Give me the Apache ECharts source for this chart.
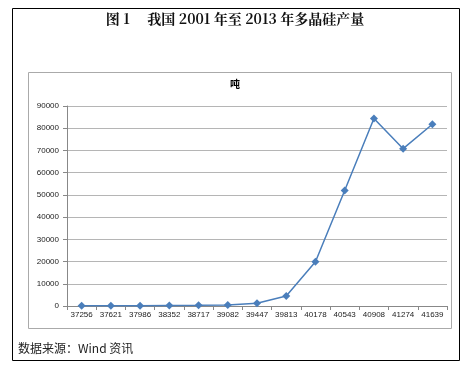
<!DOCTYPE html>
<html><head><meta charset="utf-8">
<script src="https://cdn.jsdelivr.net/npm/echarts@6/dist/echarts.min.js"></script>
<style>html,body{margin:0;padding:0;background:#fff}#c{width:470px;height:367px}</style>
</head><body><div id="c"></div>
<script>
const categories = ['37256','37621','37986','38352','38717','39082','39447','39813','40178','40543','40908','41274','41639'];
const production = [80, 90, 100, 200, 300, 500, 1200, 4500, 19900, 52000, 84400, 70800, 81800];
const yTicks = {min: 0, max: 90000, interval: 10000};
const mainTitle = '图 1　 我国 2001 年至 2013 年多晶硅产量';
const unitTitle = '吨';
const sourceNote = '数据来源：Wind 资讯';

const chart = echarts.init(document.getElementById('c'), null, {renderer: 'canvas'});
chart.setOption({
  animation: false,
  backgroundColor: '#fff',
  title: [
    {text: mainTitle, left: 'center', top: 12, padding: 0,
     textStyle: {fontFamily: '"Noto Serif CJK SC","Noto Sans CJK SC",serif', fontSize: 14, fontWeight: 'bold', color: '#111'}},
    {text: unitTitle, left: 'center', top: 79, padding: 0,
     textStyle: {fontFamily: '"Noto Sans CJK SC",sans-serif', fontSize: 10, fontWeight: 'bold', color: '#000'}},
    {text: sourceNote, left: 18, top: 342, padding: 0,
     textStyle: {fontFamily: '"Noto Sans CJK SC",sans-serif', fontSize: 12, fontWeight: 'normal', color: '#222'}}
  ],
  graphic: [
    {type: 'rect', shape: {x: 12.5, y: 8.5, width: 447, height: 352}, style: {fill: 'none', stroke: '#000', lineWidth: 1}},
    {type: 'rect', shape: {x: 28.5, y: 72.5, width: 423, height: 256}, style: {fill: 'none', stroke: '#aaa', lineWidth: 1}}
  ],
  grid: {left: 67, right: 23, top: 106, bottom: 61, containLabel: false},
  xAxis: {
    type: 'category', data: categories, boundaryGap: true,
    axisLine: {lineStyle: {color: '#888'}},
    axisTick: {show: true, alignWithLabel: false, length: 4, lineStyle: {color: '#888'}},
    axisLabel: {fontSize: 8, color: '#222', margin: 5, interval: 0, fontFamily: '"Liberation Sans",sans-serif'}
  },
  yAxis: {
    type: 'value', min: yTicks.min, max: yTicks.max, interval: yTicks.interval,
    axisLine: {show: true, lineStyle: {color: '#888'}},
    axisTick: {show: true, length: 4, lineStyle: {color: '#888'}},
    axisLabel: {fontSize: 8, color: '#222', margin: 8, fontFamily: '"Liberation Sans",sans-serif', formatter: v => String(v)},
    splitLine: {lineStyle: {color: '#b5b5b5', width: 1}}
  },
  series: [{
    type: 'line', data: production,
    symbol: 'diamond', symbolSize: 8,
    lineStyle: {color: '#4a7ebb', width: 1.5},
    itemStyle: {color: '#4a7ebb'}
  }]
});
</script></body></html>
